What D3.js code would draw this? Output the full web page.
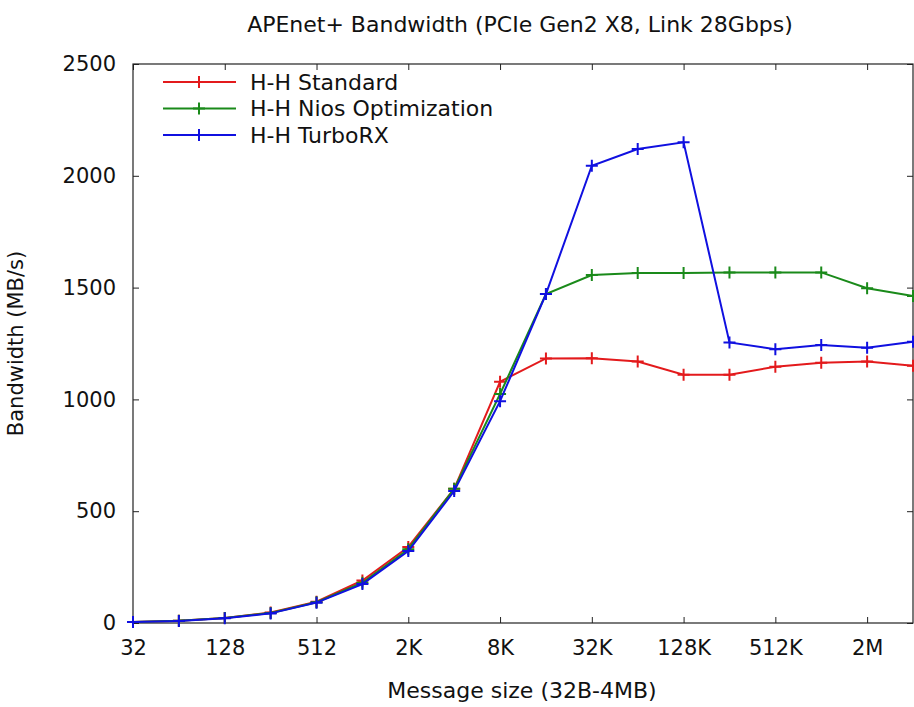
<!DOCTYPE html>
<html lang="en">
<head>
<meta charset="UTF-8">
<script src="https://d3js.org/d3.v7.min.js"></script>
<style>
  body { margin: 0; background: #fff; }
  text { font-family: "DejaVu Sans", sans-serif; fill: #111; }
</style>
</head>
<body>
<div id="chart"></div>
<script>
// message sizes in bytes, 32B .. 4MB
const sizes = [32, 64, 128, 256, 512, 1024, 2048, 4096, 8192, 16384, 32768, 65536,
  131072, 262144, 524288, 1048576, 2097152, 4194304];

// bandwidth MB/s
const standard = [5, 10, 22, 47, 95, 190, 340, 600, 1079, 1183, 1184, 1169, 1110, 1110, 1146, 1164, 1169, 1150];
const niosOpt  = [5, 10, 22, 45, 93, 180, 330, 600, 1024, 1471, 1556, 1565, 1565, 1568, 1568, 1568, 1497, 1462];
const turboRX  = [5,  9, 21, 43, 91, 174, 322, 590,  992, 1471, 2045, 2120, 2150, 1255, 1224, 1243, 1231, 1258];

const xTicks = [32, 128, 512, 2048, 8192, 32768, 131072, 524288, 2097152];
const xTickLabels = ["32", "128", "512", "2K", "8K", "32K", "128K", "512K", "2M"];
const yTicks = [0, 500, 1000, 1500, 2000, 2500];

const series = [
  {name: "H-H Standard", values: standard, color: "#e31a1c"},
  {name: "H-H Nios Optimization", values: niosOpt, color: "#1a8a1a"},
  {name: "H-H TurboRX", values: turboRX, color: "#1010e0"}
];

const W = 914, H = 707;
const margin = {top: 64, right: 1, bottom: 84, left: 133};
const width = W - margin.left - margin.right,
      height = H - margin.top - margin.bottom;

const svg = d3.select("#chart").append("svg")
    .attr("width", W).attr("height", H);

const g = svg.append("g")
    .attr("transform", `translate(${margin.left},${margin.top})`);

const x = d3.scaleLog().base(2).domain([32, 4194304]).range([0, width]);
const y = d3.scaleLinear().domain([0, 2500]).range([height, 0]);

// inward ticks on all sides, gnuplot style
const tickLen = 6;
g.append("g")
    .attr("transform", `translate(0,${height})`)
    .call(d3.axisBottom(x).tickValues(xTicks).tickSizeInner(-tickLen).tickSizeOuter(0)
      .tickPadding(17).tickFormat((d, i) => xTickLabels[i]))
    .call(a => a.select(".domain").remove())
    .call(a => a.selectAll("text").style("font-size", "21px"));
g.append("g")
    .call(d3.axisTop(x).tickValues(xTicks).tickSizeInner(-tickLen).tickSizeOuter(0).tickFormat(""))
    .call(a => a.select(".domain").remove());
g.append("g")
    .call(d3.axisLeft(y).tickValues(yTicks).tickSizeInner(-tickLen).tickSizeOuter(0)
      .tickPadding(17).tickFormat(d3.format("d")))
    .call(a => a.select(".domain").remove())
    .call(a => a.selectAll("text").style("font-size", "21px"));
g.append("g")
    .attr("transform", `translate(${width},0)`)
    .call(d3.axisRight(y).tickValues(yTicks).tickSizeInner(-tickLen).tickSizeOuter(0).tickFormat(""))
    .call(a => a.select(".domain").remove());

g.selectAll(".tick line").attr("stroke", "#222");

g.append("rect")
    .attr("width", width).attr("height", height)
    .attr("fill", "none").attr("stroke", "#222").attr("stroke-width", 1.2);

const line = d3.line()
    .x((d, i) => x(sizes[i]))
    .y(d => y(d));

const m = 6; // half size of the + marker
function plus(sel, color) {
  sel.append("path")
    .attr("d", `M${-m},0H${m}M0,${-m}V${m}`)
    .attr("stroke", color).attr("stroke-width", 2);
}

series.forEach(s => {
  g.append("path")
    .datum(s.values)
    .attr("d", line)
    .attr("fill", "none")
    .attr("stroke", s.color)
    .attr("stroke-width", 2);
  g.append("g").selectAll("g")
    .data(s.values)
    .join("g")
      .attr("transform", (d, i) => `translate(${x(sizes[i])},${y(d)})`)
      .each(function() { plus(d3.select(this), s.color); });
});

// legend
const legend = g.append("g").attr("transform", "translate(30,18)");
series.forEach((s, i) => {
  const row = legend.append("g").attr("transform", `translate(0,${i * 26.5})`);
  row.append("line").attr("x1", 0).attr("x2", 73)
    .attr("stroke", s.color).attr("stroke-width", 2);
  row.append("g").attr("transform", "translate(36,0)")
    .call(sel => plus(sel, s.color));
  row.append("text").attr("x", 87).attr("dy", "0.35em")
    .style("font-size", "22px").text(s.name);
});

// titles
svg.append("text")
    .attr("x", 520).attr("y", 32)
    .attr("text-anchor", "middle")
    .style("font-size", "22px")
    .text("APEnet+ Bandwidth (PCIe Gen2 X8, Link 28Gbps)");

svg.append("text")
    .attr("x", 522).attr("y", 698)
    .attr("text-anchor", "middle")
    .style("font-size", "22px")
    .text("Message size (32B-4MB)");

svg.append("text")
    .attr("transform", `translate(23,${margin.top + height / 2}) rotate(-90)`)
    .attr("text-anchor", "middle")
    .style("font-size", "21px")
    .text("Bandwidth (MB/s)");
</script>
</body>
</html>
